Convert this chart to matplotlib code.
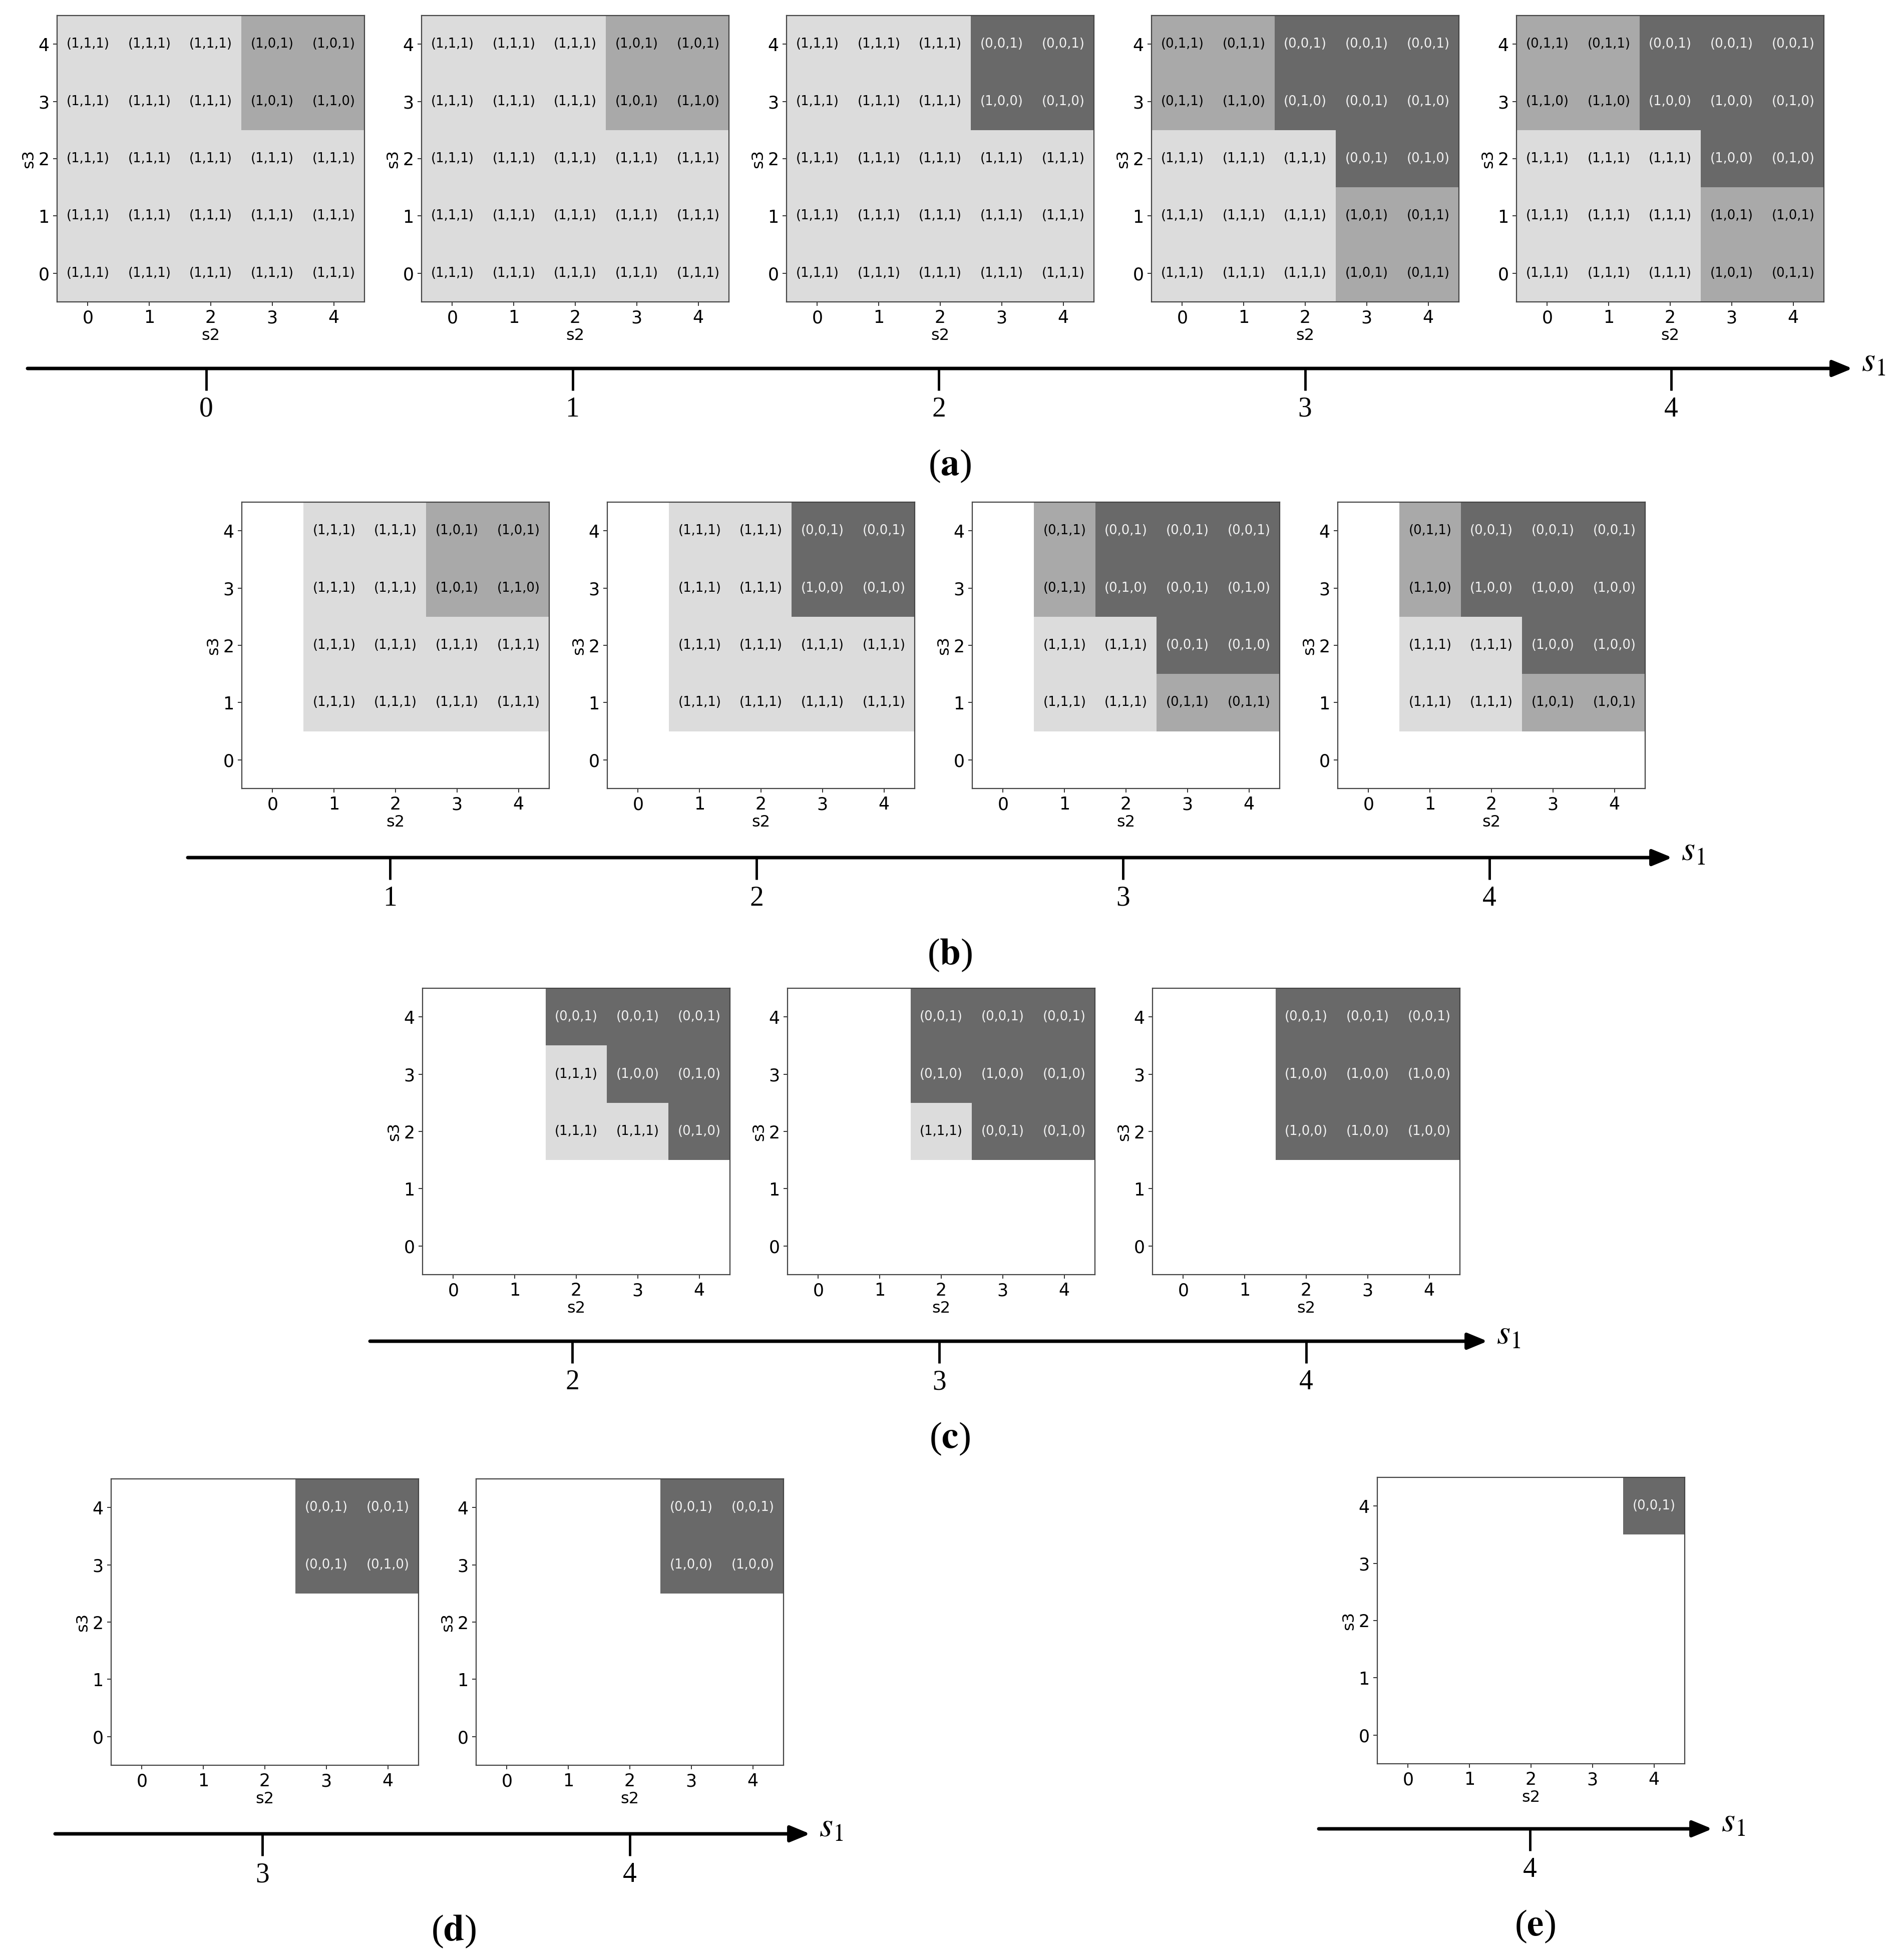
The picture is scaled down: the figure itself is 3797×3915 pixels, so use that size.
import numpy as np
import matplotlib
matplotlib.use("Agg")
import matplotlib.pyplot as plt
from matplotlib.colors import ListedColormap, BoundaryNorm

# ---------------- data ----------------
s2_values = [0, 1, 2, 3, 4]
s3_values = [0, 1, 2, 3, 4]

# Each grid: rows listed from s3 = 4 (top) down to s3 = 0; columns s2 = 0..4; "" = no cell
L = "(1,1,1)"
a_s1_0 = [[L, L, L, "(1,0,1)", "(1,0,1)"],
          [L, L, L, "(1,0,1)", "(1,1,0)"],
          [L, L, L, L, L],
          [L, L, L, L, L],
          [L, L, L, L, L]]
a_s1_1 = [[L, L, L, "(1,0,1)", "(1,0,1)"],
          [L, L, L, "(1,0,1)", "(1,1,0)"],
          [L, L, L, L, L],
          [L, L, L, L, L],
          [L, L, L, L, L]]
a_s1_2 = [[L, L, L, "(0,0,1)", "(0,0,1)"],
          [L, L, L, "(1,0,0)", "(0,1,0)"],
          [L, L, L, L, L],
          [L, L, L, L, L],
          [L, L, L, L, L]]
a_s1_3 = [["(0,1,1)", "(0,1,1)", "(0,0,1)", "(0,0,1)", "(0,0,1)"],
          ["(0,1,1)", "(1,1,0)", "(0,1,0)", "(0,0,1)", "(0,1,0)"],
          [L, L, L, "(0,0,1)", "(0,1,0)"],
          [L, L, L, "(1,0,1)", "(0,1,1)"],
          [L, L, L, "(1,0,1)", "(0,1,1)"]]
a_s1_4 = [["(0,1,1)", "(0,1,1)", "(0,0,1)", "(0,0,1)", "(0,0,1)"],
          ["(1,1,0)", "(1,1,0)", "(1,0,0)", "(1,0,0)", "(0,1,0)"],
          [L, L, L, "(1,0,0)", "(0,1,0)"],
          [L, L, L, "(1,0,1)", "(1,0,1)"],
          [L, L, L, "(1,0,1)", "(0,1,1)"]]

b_s1_1 = [["", L, L, "(1,0,1)", "(1,0,1)"],
          ["", L, L, "(1,0,1)", "(1,1,0)"],
          ["", L, L, L, L],
          ["", L, L, L, L],
          ["", "", "", "", ""]]
b_s1_2 = [["", L, L, "(0,0,1)", "(0,0,1)"],
          ["", L, L, "(1,0,0)", "(0,1,0)"],
          ["", L, L, L, L],
          ["", L, L, L, L],
          ["", "", "", "", ""]]
b_s1_3 = [["", "(0,1,1)", "(0,0,1)", "(0,0,1)", "(0,0,1)"],
          ["", "(0,1,1)", "(0,1,0)", "(0,0,1)", "(0,1,0)"],
          ["", L, L, "(0,0,1)", "(0,1,0)"],
          ["", L, L, "(0,1,1)", "(0,1,1)"],
          ["", "", "", "", ""]]
b_s1_4 = [["", "(0,1,1)", "(0,0,1)", "(0,0,1)", "(0,0,1)"],
          ["", "(1,1,0)", "(1,0,0)", "(1,0,0)", "(1,0,0)"],
          ["", L, L, "(1,0,0)", "(1,0,0)"],
          ["", L, L, "(1,0,1)", "(1,0,1)"],
          ["", "", "", "", ""]]

c_s1_2 = [["", "", "(0,0,1)", "(0,0,1)", "(0,0,1)"],
          ["", "", L, "(1,0,0)", "(0,1,0)"],
          ["", "", L, L, "(0,1,0)"],
          ["", "", "", "", ""],
          ["", "", "", "", ""]]
c_s1_3 = [["", "", "(0,0,1)", "(0,0,1)", "(0,0,1)"],
          ["", "", "(0,1,0)", "(1,0,0)", "(0,1,0)"],
          ["", "", L, "(0,0,1)", "(0,1,0)"],
          ["", "", "", "", ""],
          ["", "", "", "", ""]]
c_s1_4 = [["", "", "(0,0,1)", "(0,0,1)", "(0,0,1)"],
          ["", "", "(1,0,0)", "(1,0,0)", "(1,0,0)"],
          ["", "", "(1,0,0)", "(1,0,0)", "(1,0,0)"],
          ["", "", "", "", ""],
          ["", "", "", "", ""]]

d_s1_3 = [["", "", "", "(0,0,1)", "(0,0,1)"],
          ["", "", "", "(0,0,1)", "(0,1,0)"],
          ["", "", "", "", ""],
          ["", "", "", "", ""],
          ["", "", "", "", ""]]
d_s1_4 = [["", "", "", "(0,0,1)", "(0,0,1)"],
          ["", "", "", "(1,0,0)", "(1,0,0)"],
          ["", "", "", "", ""],
          ["", "", "", "", ""],
          ["", "", "", "", ""]]

e_s1_4 = [["", "", "", "", "(0,0,1)"],
          ["", "", "", "", ""],
          ["", "", "", "", ""],
          ["", "", "", "", ""],
          ["", "", "", "", ""]]

panel_a_s1 = [0, 1, 2, 3, 4]
panel_b_s1 = [1, 2, 3, 4]
panel_c_s1 = [2, 3, 4]
panel_d_s1 = [3, 4]
panel_e_s1 = [4]
panel_captions = ["a", "b", "c", "d", "e"]

# ---------------- style ----------------
W, H = 3797, 3915
DPI = 100
SHADES = ["#dcdcdc", "#a9a9a9", "#696969"]   # 0, 1, 2 zeros in the label
TEXT_COLORS = ["black", "black", "#f2f2f2"]
cmap = ListedColormap(SHADES)
norm = BoundaryNorm([-0.5, 0.5, 1.5, 2.5], cmap.N)

plt.rcParams["font.family"] = ["DejaVu Sans"]
plt.rcParams["mathtext.fontset"] = "stix"

fig = plt.figure(figsize=(W / DPI, H / DPI), dpi=DPI)
fig.patch.set_facecolor("white")

AX_W, AX_H = 614, 572


def add_px_axes(x, y, w, h):
    return fig.add_axes([x / W, 1 - (y + h) / H, w / W, h / H])


def draw_heatmap(x, y, grid):
    ax = add_px_axes(x, y, AX_W, AX_H)
    rows = grid[::-1]                      # s3 = 0 at the bottom
    codes = np.ma.masked_all((len(s3_values), len(s2_values)))
    for j, row in enumerate(rows):
        for i, lab in enumerate(row):
            if lab:
                codes[j, i] = lab.count("0")
    edges_x = np.arange(len(s2_values) + 1) - 0.5
    edges_y = np.arange(len(s3_values) + 1) - 0.5
    ax.pcolormesh(edges_x, edges_y, codes, cmap=cmap, norm=norm, shading="flat")
    for j, row in enumerate(rows):
        for i, lab in enumerate(row):
            if lab:
                ax.text(s2_values[i], s3_values[j], lab, ha="center", va="center",
                        fontsize=18.5, color=TEXT_COLORS[lab.count("0")])
    ax.set_xlim(-0.5, 4.5)
    ax.set_ylim(-0.5, 4.5)
    ax.set_xticks(s2_values)
    ax.set_yticks(s3_values)
    ax.tick_params(labelsize=25, length=6, width=1.4, pad=5, color="#333333")
    ax.set_xlabel("s2", fontsize=23, labelpad=2)
    ax.set_ylabel("s3", fontsize=23, labelpad=2)
    for sp in ax.spines.values():
        sp.set_color("#444444")
        sp.set_linewidth(1.6)
    return ax


def draw_s1_axis(x0, x1, y, p0, d, s1_vals, caption, cap_x):
    # axis in s1 units: pixel = p0 + s1 * d
    top, bottom = 40, 230
    ax = add_px_axes(x0, y - top, x1 - x0, top + bottom)
    ax.set_xlim((x0 - p0) / d, (x1 - p0) / d)
    ax.set_ylim(bottom, -top)
    ax.axis("off")
    xl = ax.get_xlim()
    ax.annotate("", xy=(xl[1], 0), xytext=(xl[0], 0), xycoords="data",
                arrowprops=dict(arrowstyle="-|>,head_length=0.8,head_width=0.33",
                                lw=5, color="black", mutation_scale=30,
                                shrinkA=0, shrinkB=0),
                annotation_clip=False)
    ax.vlines(s1_vals, 0, 44, color="black", lw=3.5)
    for v in s1_vals:
        ax.text(v, 82, str(v), ha="center", va="center", fontsize=40,
                family="Liberation Serif")
    fig.text((x1 + 18) / W, 1 - (y - 14) / H, r"$s_1$", fontsize=50,
             ha="left", va="center")
    fig.text(cap_x / W, 1 - (y + 195) / H, "(" + r"$\mathbf{" + caption + "}$" + ")",
             fontsize=54, ha="center", va="center", family="Liberation Serif")


# panel (a)
a_grids = [a_s1_0, a_s1_1, a_s1_2, a_s1_3, a_s1_4]
a_x = [114, 842, 1571, 2300, 3029]
for gx, g in zip(a_x, a_grids):
    draw_heatmap(gx, 31, g)
draw_s1_axis(55, 3700, 736, 412, 731.5, panel_a_s1, panel_captions[0], 1897)

# panel (b)
b_grids = [b_s1_1, b_s1_2, b_s1_3, b_s1_4]
b_x = [483, 1213, 1942, 2672]
for gx, g in zip(b_x, b_grids):
    draw_heatmap(gx, 1003, g)
draw_s1_axis(375, 3340, 1713, 779 - 732, 732, panel_b_s1, panel_captions[1], 1897)

# panel (c)
c_grids = [c_s1_2, c_s1_3, c_s1_4]
c_x = [844, 1573, 2302]
for gx, g in zip(c_x, c_grids):
    draw_heatmap(gx, 1974, g)
draw_s1_axis(739, 2971, 2679, 1143 - 2 * 733, 733, panel_c_s1, panel_captions[2], 1897)

# panel (d)
d_grids = [d_s1_3, d_s1_4]
d_x = [222, 951]
for gx, g in zip(d_x, d_grids):
    draw_heatmap(gx, 2954, g)
draw_s1_axis(110, 1618, 3663, 524 - 3 * 734, 734, panel_d_s1, panel_captions[3], 906)

# panel (e)
draw_heatmap(2751, 2951, e_s1_4)
draw_s1_axis(2634, 3420, 3653, 3056 - 4 * 734, 734, panel_e_s1, panel_captions[4], 3066)

fig.savefig("out.png", dpi=DPI, facecolor="white")
